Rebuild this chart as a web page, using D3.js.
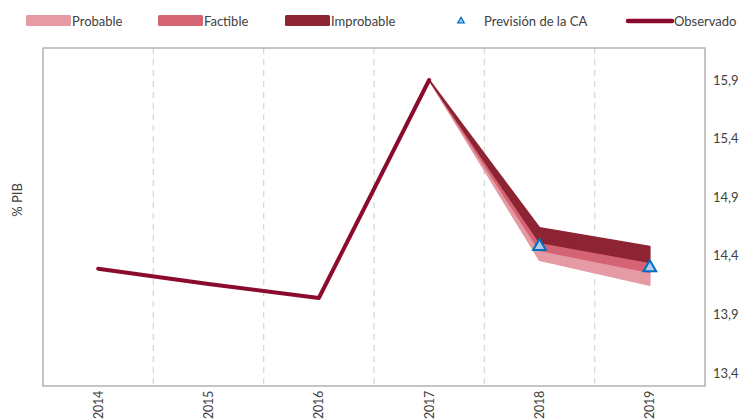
<!DOCTYPE html>
<html>
<head>
<meta charset="utf-8">
<script src="https://cdn.jsdelivr.net/npm/d3@7/dist/d3.min.js"></script>
<style>
  body { margin: 0; background: #fff; }
  text { font-family: Lato, "Open Sans", sans-serif; fill: #404040; }
</style>
</head>
<body>
<svg id="drawsvg" width="755" height="419"></svg>
<script>
// data
var years = ['2014', '2015', '2016', '2017', '2018', '2019'];
var observado = [14.29, 14.16, 14.04, 15.9];          // 2014-2017
var fanYears = ['2017', '2018', '2019'];
var improbableHi = [15.9, 14.64, 14.48];
var improbableLo = [15.9, 14.515, 14.344];
var factibleLo = [15.9, 14.447, 14.259];
var probableLo = [15.9, 14.362, 14.148];
var prevYears = ['2018', '2019'];
var prevision = [14.48, 14.30];
var yTicks = [13.4, 13.9, 14.4, 14.9, 15.4, 15.9];

var colors = {probable: '#e59aa4', factible: '#d46474', improbable: '#8c2433', obs: '#8a0b2e'};

var plot = {left: 43, right: 705, top: 48, bottom: 386};

var svg = d3.select('#drawsvg');

var x = d3.scaleBand().domain(years).range([plot.left, plot.right]);
var y = d3.scaleLinear().domain([13.4, 15.9]).range([373, 80]);
function cx(d){ return x(d) + x.bandwidth() / 2; }

// grid lines between categories
svg.append('g').selectAll('line')
   .data(years.slice(1))
   .enter().append('line')
   .attr('x1', function(d){ return x(d); })
   .attr('x2', function(d){ return x(d); })
   .attr('y1', plot.top)
   .attr('y2', plot.bottom)
   .style('stroke', '#d9d9d9')
   .style('stroke-width', 1.3)
   .style('stroke-dasharray', '6 5');

// fan bands
function band(lo, hi, color){
  var pts = fanYears.map(function(d, i){ return {x: cx(d), lo: lo[i], hi: hi[i]}; });
  var area = d3.area()
     .x(function(d){ return d.x; })
     .y0(function(d){ return y(d.lo); })
     .y1(function(d){ return y(d.hi); });
  svg.append('path')
     .attr('d', area(pts))
     .style('fill', color)
     .style('stroke', color)
     .style('stroke-width', 1.5)
     .style('stroke-linejoin', 'round');
}
band(probableLo, factibleLo, colors.probable);
band(factibleLo, improbableLo, colors.factible);
band(improbableLo, improbableHi, colors.improbable);

// observed line
var line = d3.line()
   .x(function(d, i){ return cx(years[i]); })
   .y(function(d){ return y(d); });
svg.append('path')
   .attr('d', line(observado))
   .style('fill', 'none')
   .style('stroke', colors.obs)
   .style('stroke-width', 4)
   .style('stroke-linejoin', 'round')
   .style('stroke-linecap', 'round');

// prevision markers
var tri = d3.symbol().type(d3.symbolTriangle).size(70);
svg.append('g').selectAll('path')
   .data(prevision)
   .enter().append('path')
   .attr('d', tri)
   .attr('transform', function(d, i){ return 'translate(' + cx(prevYears[i]) + ',' + y(d) + ')'; })
   .style('fill', '#b4cbe6')
   .style('stroke', '#0070c0')
   .style('stroke-width', 2);

// border
svg.append('rect')
   .attr('x', plot.left)
   .attr('y', plot.top)
   .attr('width', plot.right - plot.left)
   .attr('height', plot.bottom - plot.top)
   .style('fill', 'none')
   .style('stroke', '#a6a6a6')
   .style('stroke-width', 1.3);

// y tick labels (right)
svg.append('g').selectAll('text')
   .data(yTicks)
   .enter().append('text')
   .attr('x', 713)
   .attr('y', function(d){ return y(d); })
   .attr('dy', '0.35em')
   .style('font-size', '13px')
   .text(function(d){ return d3.format('.1f')(d).replace('.', ','); });

// x labels rotated
svg.append('g').selectAll('text')
   .data(years)
   .enter().append('text')
   .attr('transform', function(d){ return 'translate(' + (cx(d) + 4.5) + ',405) rotate(-90)'; })
   .style('text-anchor', 'middle')
   .style('font-size', '12.5px')
   .style('letter-spacing', '-0.2px')
   .text(function(d){ return d; });

// y axis title
svg.append('text')
   .attr('transform', 'translate(22,200) rotate(-90)')
   .style('text-anchor', 'middle')
   .style('font-size', '13px')
   .text('% PIB');

// legend
var legend = [
  {type: 'rect', color: colors.probable, label: 'Probable', x: 26},
  {type: 'rect', color: colors.factible, label: 'Factible', x: 158},
  {type: 'rect', color: colors.improbable, label: 'Improbable', x: 285},
  {type: 'tri', label: 'Previsión de la CA', x: 461},
  {type: 'line', color: colors.obs, label: 'Observado', x: 628}
];
var lg = svg.append('g');
legend.forEach(function(l){
  if(l.type == 'rect'){
    lg.append('rect').attr('x', l.x).attr('y', 15).attr('width', 45).attr('height', 11)
      .attr('rx', 1.5).style('fill', l.color);
    lg.append('text').attr('x', l.x + 46).attr('y', 21).attr('dy', '0.35em')
      .style('font-size', '13px').text(l.label);
  }else if(l.type == 'tri'){
    lg.append('path').attr('d', d3.symbol().type(d3.symbolTriangle).size(18))
      .attr('transform', 'translate(' + l.x + ',21)')
      .style('fill', '#b4cbe6').style('stroke', '#0070c0').style('stroke-width', 1.3);
    lg.append('text').attr('x', l.x + 23).attr('y', 21).attr('dy', '0.35em')
      .style('font-size', '13px').text(l.label);
  }else{
    lg.append('line').attr('x1', l.x).attr('x2', l.x + 44).attr('y1', 21).attr('y2', 21)
      .style('stroke', l.color).style('stroke-width', 4.5).style('stroke-linecap', 'round');
    lg.append('text').attr('x', l.x + 46).attr('y', 21).attr('dy', '0.35em')
      .style('font-size', '13px').text(l.label);
  }
});
</script>
</body>
</html>
